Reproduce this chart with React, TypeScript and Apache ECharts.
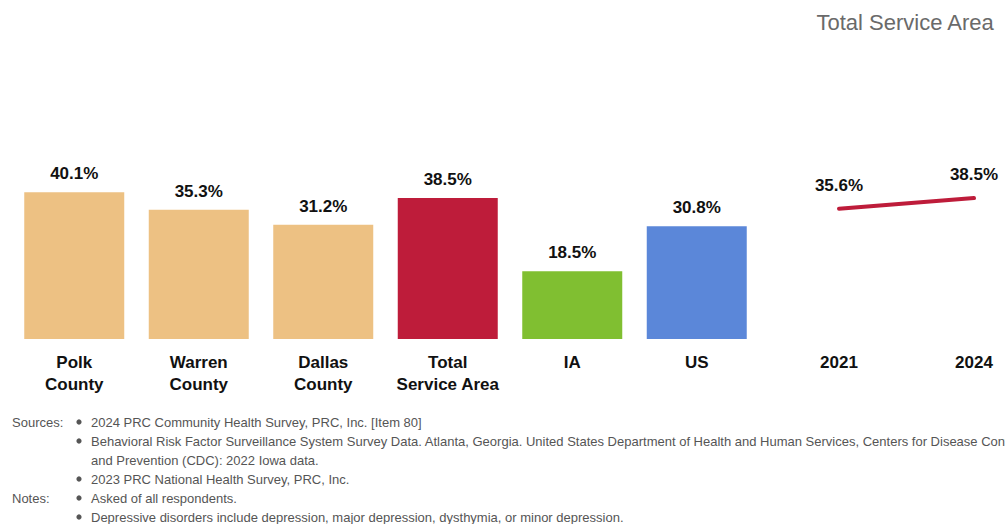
import React, { useEffect, useRef } from "react";
import * as echarts from "echarts";

const categories = ["Polk\nCounty", "Warren\nCounty", "Dallas\nCounty", "Total\nService Area", "IA", "US"];
const barValues = [40.1, 35.3, 31.2, 38.5, 18.5, 30.8];
const barColors = ["#EDC183", "#EDC183", "#EDC183", "#BE1C3A", "#80BF31", "#5B87D9"];
const years = ["2021", "2024"];
const trendValues = [35.6, 38.5];
const title = "Total Service Area";
const sourceLines = [
  "2024 PRC Community Health Survey, PRC, Inc. [Item 80]",
  "Behavioral Risk Factor Surveillance System Survey Data. Atlanta, Georgia. United States Department of Health and Human Services, Centers for Disease Control",
  "and Prevention (CDC): 2022 Iowa data.",
  "2023 PRC National Health Survey, PRC, Inc.",
];
const noteLines = [
  "Asked of all respondents.",
  "Depressive disorders include depression, major depression, dysthymia, or minor depression.",
];

const FONT = "'Liberation Sans Narrow', 'Arial Narrow', 'Liberation Sans', Arial, sans-serif";

export default function App() {
  const ref = useRef<HTMLDivElement>(null);
  useEffect(() => {
    document.body.style.margin = "0";
    const chart = echarts.init(ref.current!, null, { renderer: "svg" });
    const footColor = "#555";
    const footSize = 13;
    const footGraphics: any[] = [];
    const lineH = 19;
    const y0 = 422;
    footGraphics.push({ type: "text", x: 12, y: y0, style: { text: "Sources:", font: `${footSize}px ${FONT}`, fill: footColor, verticalAlign: "middle" } });
    const bulletRows = [0, 1, 3];
    sourceLines.forEach((t, i) => {
      footGraphics.push({ type: "text", x: 91, y: y0 + i * lineH, style: { text: t, font: `${footSize}px ${FONT}`, fill: footColor, verticalAlign: "middle" } });
      if (bulletRows.includes(i)) {
        footGraphics.push({ type: "circle", shape: { cx: 79, cy: y0 + i * lineH, r: 2.6 }, style: { fill: footColor } });
      }
    });
    const ny = y0 + 4 * lineH;
    footGraphics.push({ type: "text", x: 12, y: ny, style: { text: "Notes:", font: `${footSize}px ${FONT}`, fill: footColor, verticalAlign: "middle" } });
    noteLines.forEach((t, i) => {
      footGraphics.push({ type: "text", x: 91, y: ny + i * lineH, style: { text: t, font: `${footSize}px ${FONT}`, fill: footColor, verticalAlign: "middle" } });
      footGraphics.push({ type: "circle", shape: { cx: 79, cy: ny + i * lineH, r: 2.6 }, style: { fill: footColor } });
    });

    const labelFont = {
      fontFamily: FONT,
      fontSize: 17,
      fontWeight: "bold" as const,
      color: "#111",
    };

    chart.setOption({
      animation: false,
      backgroundColor: "#fff",
      title: {
        text: title,
        right: 5,
        top: 6,
        textStyle: { fontFamily: "'Liberation Sans', Arial, sans-serif", fontSize: 22, fontWeight: "normal", color: "#6a6a6a" },
      },
      graphic: footGraphics,
      grid: [
        { left: 12, width: 747, top: 156, height: 183 },
        { left: 839, width: 135, top: 156, height: 183 },
      ],
      xAxis: [
        {
          type: "category",
          gridIndex: 0,
          data: categories,
          axisLine: { show: false },
          axisTick: { show: false },
          axisLabel: { margin: 12, lineHeight: 22, interval: 0, ...labelFont },
        },
        {
          type: "category",
          gridIndex: 1,
          data: years,
          boundaryGap: false,
          axisLine: { show: false },
          axisTick: { show: false },
          axisLabel: { margin: 12, lineHeight: 22, interval: 0, ...labelFont },
        },
      ],
      yAxis: [
        { type: "value", gridIndex: 0, min: 0, max: 50, show: false, splitLine: { show: false } },
        { type: "value", gridIndex: 1, min: 0, max: 50, show: false, splitLine: { show: false } },
      ],
      series: [
        {
          type: "bar",
          xAxisIndex: 0,
          yAxisIndex: 0,
          barWidth: 100,
          data: barValues.map((v, i) => ({ value: v, itemStyle: { color: barColors[i] } })),
          label: {
            show: true,
            position: "top",
            distance: 10,
            formatter: (p: any) => `${p.value.toFixed(1)}%`,
            ...labelFont,
          },
        },
        {
          type: "line",
          xAxisIndex: 1,
          yAxisIndex: 1,
          data: trendValues,
          showSymbol: true,
          symbolSize: 0.1,
          lineStyle: { color: "#BE1C3A", width: 4, cap: "round" },
          itemStyle: { color: "#BE1C3A" },
          label: {
            show: true,
            position: "top",
            distance: 14,
            formatter: (p: any) => `${p.value.toFixed(1)}%`,
            ...labelFont,
          },
        },
      ],
    });
    return () => chart.dispose();
  }, []);
  return <div ref={ref} style={{ width: 1005, height: 524 }} />;
}
